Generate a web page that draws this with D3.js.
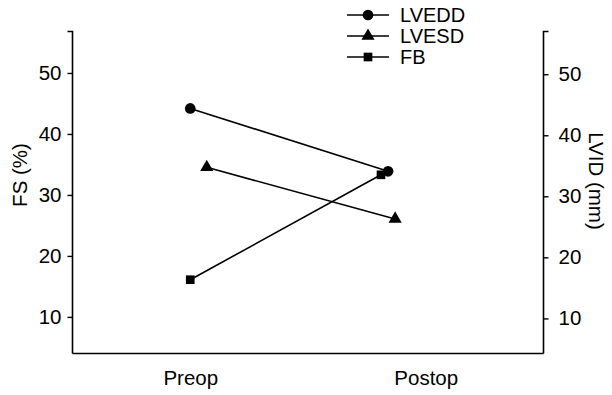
<!DOCTYPE html>
<html>
<head>
<meta charset="utf-8">
<script src="https://cdn.jsdelivr.net/npm/d3@7"></script>
<style>
  body { margin: 0; background: #fff; }
  svg { display: block; }
  text { font-family: Arial, "Liberation Sans", sans-serif; fill: #000; }
</style>
</head>
<body>
<svg id="chart" width="612" height="395"></svg>
<script>
// ---- Data ----
const categories = ["Preop", "Postop"];
const categoryPos = [1, 2];
const leftTicks = [10, 20, 30, 40, 50];
const rightTicks = [10, 20, 30, 40, 50];
const seriesNames = ["LVEDD", "LVESD", "FB"];
const seriesAxis = ["right", "right", "left"];
const seriesSymbols = ["circle", "triangle", "square"];
// x positions of the plotted points (slightly offset from category centres in the original)
const lvedd_x = [1.0, 1.84];
const lvedd_y = [44.4, 34.1];
const lvesd_x = [1.07, 1.87];
const lvesd_y = [34.75, 26.3];
const fb_x = [1.0, 1.81];
const fb_y = [16.1, 33.3];

const seriesX = [lvedd_x, lvesd_x, fb_x];
const seriesY = [lvedd_y, lvesd_y, fb_y];

// ---- Layout ----
const svg = d3.select("#chart");
const pLeft = 72.5, pRight = 543.5, pTop = 31.5, pBottom = 353.5;
const FS = 20.5;

const x = d3.scaleLinear().domain([0.5, 2.5]).range([pLeft, pRight]);
const yL = d3.scaleLinear().domain([4.0, 56.8]).range([pBottom, pTop]);
const yR = d3.scaleLinear().domain([4.25, 57.0]).range([pBottom, pTop]);

const FONT = "Arial, 'Liberation Sans', sans-serif";

// Axes
const gL = svg.append("g").attr("transform", `translate(${pLeft},0)`)
  .call(d3.axisLeft(yL).tickValues(leftTicks).tickSize(5).tickPadding(6));
const gR = svg.append("g").attr("transform", `translate(${pRight},0)`)
  .call(d3.axisRight(yR).tickValues(rightTicks).tickSize(5).tickPadding(10));
[gL, gR].forEach(g => {
  g.select(".domain").attr("stroke", "#000").attr("stroke-width", 1.6).attr("fill", "none");
  g.selectAll(".tick line").attr("stroke", "#000").attr("stroke-width", 1.4);
  g.selectAll(".tick text").attr("font-size", FS).attr("font-family", FONT).attr("fill", "#000");
});
gL.select(".domain").attr("d", `M-5,${pTop}H0V${pBottom}`);
gR.select(".domain").attr("d", `M5,${pTop}H0V${pBottom}`);

const gB = svg.append("g").attr("transform", `translate(0,${pBottom})`)
  .call(d3.axisBottom(x).tickValues(categoryPos).tickSize(0).tickPadding(17)
    .tickFormat((d, i) => categories[i]));
gB.select(".domain").attr("stroke", "#000").attr("stroke-width", 1.6).attr("d", `M${pLeft},0H${pRight}`);
gB.selectAll(".tick text").attr("font-size", FS).attr("font-family", FONT).attr("fill", "#000");

// Axis titles
svg.append("text")
  .attr("transform", `translate(27,175) rotate(-90)`)
  .attr("text-anchor", "middle").attr("font-size", FS).text("FS (%)");
svg.append("text")
  .attr("transform", `translate(589,181) rotate(90)`)
  .attr("text-anchor", "middle").attr("font-size", FS).text("LVID (mm)");

// Symbols
const symType = { circle: d3.symbolCircle, triangle: d3.symbolTriangle, square: d3.symbolSquare };
const symSize = { circle: 90, triangle: 75, square: 75 };

const line = d3.line();
seriesNames.forEach((name, s) => {
  const yS = seriesAxis[s] === "left" ? yL : yR;
  const pts = seriesX[s].map((xv, i) => [x(xv), yS(seriesY[s][i])]);
  svg.append("path").attr("d", line(pts))
    .attr("fill", "none").attr("stroke", "#000").attr("stroke-width", 1.6);
  svg.selectAll(null).data(pts).enter().append("path")
    .attr("transform", d => `translate(${d[0]},${d[1]})`)
    .attr("d", d3.symbol().type(symType[seriesSymbols[s]]).size(symSize[seriesSymbols[s]]))
    .attr("fill", "#000");
});

// Legend
const legX0 = 347, legX1 = 389, legTextX = 400, legY0 = 15, legDy = 21;
seriesNames.forEach((name, s) => {
  const yy = legY0 + s * legDy;
  svg.append("line").attr("x1", legX0).attr("x2", legX1).attr("y1", yy).attr("y2", yy)
    .attr("stroke", "#000").attr("stroke-width", 1.6);
  svg.append("path").attr("transform", `translate(${(legX0 + legX1) / 2},${yy})`)
    .attr("d", d3.symbol().type(symType[seriesSymbols[s]]).size(symSize[seriesSymbols[s]]))
    .attr("fill", "#000");
  svg.append("text").attr("x", legTextX).attr("y", yy + 7)
    .attr("font-size", 20).text(name);
});
</script>
</body>
</html>
